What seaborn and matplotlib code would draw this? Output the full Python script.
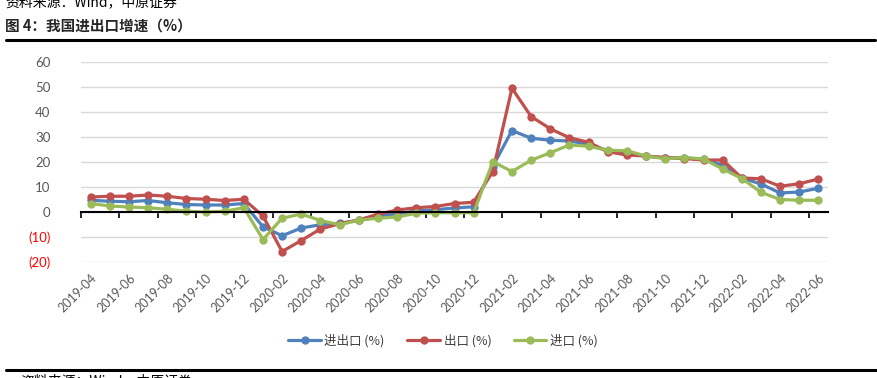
import numpy as np
import pandas as pd
import matplotlib
matplotlib.use('Agg')
import matplotlib.pyplot as plt
import seaborn as sns
from matplotlib.ticker import FixedLocator, FuncFormatter

# Monthly categories, 2019-04 .. 2022-06
months = [str(p) for p in pd.period_range('2019-04', '2022-06', freq='M')]

# Growth rates (%)
total = [4.7, 4.3, 4.1, 4.6, 3.7, 3.0, 2.8, 2.8, 3.4, -5.9, -9.5, -6.4, -5.1,
         -4.5, -3.3, -1.6, -0.7, 0.4, 0.9, 1.6, 2.1, 18.2, 32.6, 29.5, 28.7,
         28.4, 27.1, 24.5, 23.7, 22.4, 21.6, 21.6, 21.1, 18.8, 13.6, 11.2,
         7.6, 8.0, 9.5]
exports = [6.0, 6.3, 6.3, 6.8, 6.3, 5.4, 5.1, 4.6, 5.1, -1.6, -15.8, -11.4,
           -6.8, -4.7, -3.2, -0.9, 0.8, 1.7, 2.2, 3.4, 3.9, 16.2, 49.5, 38.2,
           33.3, 29.7, 27.9, 24.1, 22.8, 22.4, 21.8, 21.4, 20.8, 20.8, 13.6,
           13.3, 10.3, 11.3, 13.2]
imports = [3.4, 2.4, 2.0, 1.7, 1.1, 0.3, 0.0, 0.3, 1.7, -11.0, -2.5, -0.8,
           -3.4, -5.1, -3.3, -2.5, -2.0, -0.5, -0.3, -0.3, -0.3, 20.1, 16.2,
           20.7, 23.7, 26.8, 26.3, 24.7, 24.5, 22.4, 21.3, 21.8, 21.2, 17.2,
           13.4, 7.9, 5.0, 4.7, 4.7]

series_names = ['进出口 (%)', '出口 (%)', '进口 (%)']
series_colors = ['#4F81BD', '#C0504D', '#9BBB59']

sns.set_style('white')
plt.rcParams['font.family'] = ['Lato', 'Noto Sans CJK SC', 'DejaVu Sans']

fig = plt.figure(figsize=(8.77, 3.78), dpi=100)
ax = fig.add_axes([81 / 877, 1 - 262 / 378, (828 - 81) / 877, 200 / 378])

idx = np.arange(len(months))
for name, vals, col in zip(series_names, [total, exports, imports], series_colors):
    sns.lineplot(x=idx, y=vals, ax=ax, color=col, linewidth=2.3, marker='o',
                 markersize=6, markeredgewidth=0, label=name)

ax.set_xlim(-0.5, len(months) - 0.5)
ax.set_ylim(-20, 60)

# y axis
ax.set_yticks(range(-20, 61, 10))
ax.yaxis.set_major_formatter(FuncFormatter(
    lambda v, p: '({:d})'.format(int(-v)) if v < 0 else '{:d}'.format(int(v))))
ax.grid(axis='y', color='#d9d9d9', linewidth=1)
ax.tick_params(axis='y', length=0, pad=22, labelsize=9.5)
for lab, v in zip(ax.get_yticklabels(), ax.get_yticks()):
    lab.set_color('#ff0000' if v < 0 else '#595959')

# x axis: line at zero, boundary ticks there, labels at bottom
for s in ['top', 'right', 'left']:
    ax.spines[s].set_visible(False)
ax.spines['bottom'].set_position(('data', 0))
ax.spines['bottom'].set_color('black')
ax.spines['bottom'].set_linewidth(1.5)
ax.set_zorder(1)
ax.xaxis.set_major_locator(FixedLocator(idx[::2]))
ax.set_xticklabels(months[::2])
ax.xaxis.set_minor_locator(FixedLocator(np.arange(-0.5, len(months), 2)))
ax.tick_params(axis='x', which='major', length=0, pad=43, labelsize=9,
               labelcolor='#595959', rotation=45)
ax.tick_params(axis='x', which='minor', bottom=True, length=4, width=1.2,
               color='black', direction='out')
for lab in ax.get_xticklabels():
    lab.set_ha('right')
    lab.set_rotation_mode('anchor')

ax.set_xlabel('')
ax.set_ylabel('')

leg = ax.legend(loc='center', bbox_to_anchor=(443 / 877, 1 - 341 / 378),
                bbox_transform=fig.transFigure, ncol=3, frameon=False,
                handlelength=2.6, columnspacing=1.8, handletextpad=0.3,
                prop={'family': ['Noto Sans CJK SC', 'DejaVu Sans'], 'size': 9})
for t in leg.get_texts():
    t.set_color('#404040')

# Report-style header and rules
fig.text(5 / 877, 1 - 2 / 378, '资料来源：Wind，中原证券', fontsize=10, va='center',
         family=['Noto Sans CJK SC', 'DejaVu Sans'], color='black')
fig.text(5 / 877, 1 - 26 / 378, '图 4：我国进出口增速（%）', fontsize=10.5,
         fontweight='bold', va='center', family=['Noto Sans CJK SC', 'DejaVu Sans'])
fig.add_artist(plt.Line2D([6 / 877, 875 / 877], [1 - 39.5 / 378] * 2,
                          color='black', linewidth=2.2))
fig.add_artist(plt.Line2D([6 / 877, 1], [1 - 369.5 / 378] * 2,
                          color='black', linewidth=2.2))
fig.text(20 / 877, 1 - 381 / 378, '资料来源：Wind，中原证券', fontsize=10, va='center',
         family=['Noto Sans CJK SC', 'DejaVu Sans'], color='black')

fig.savefig('out.png', dpi=100)
